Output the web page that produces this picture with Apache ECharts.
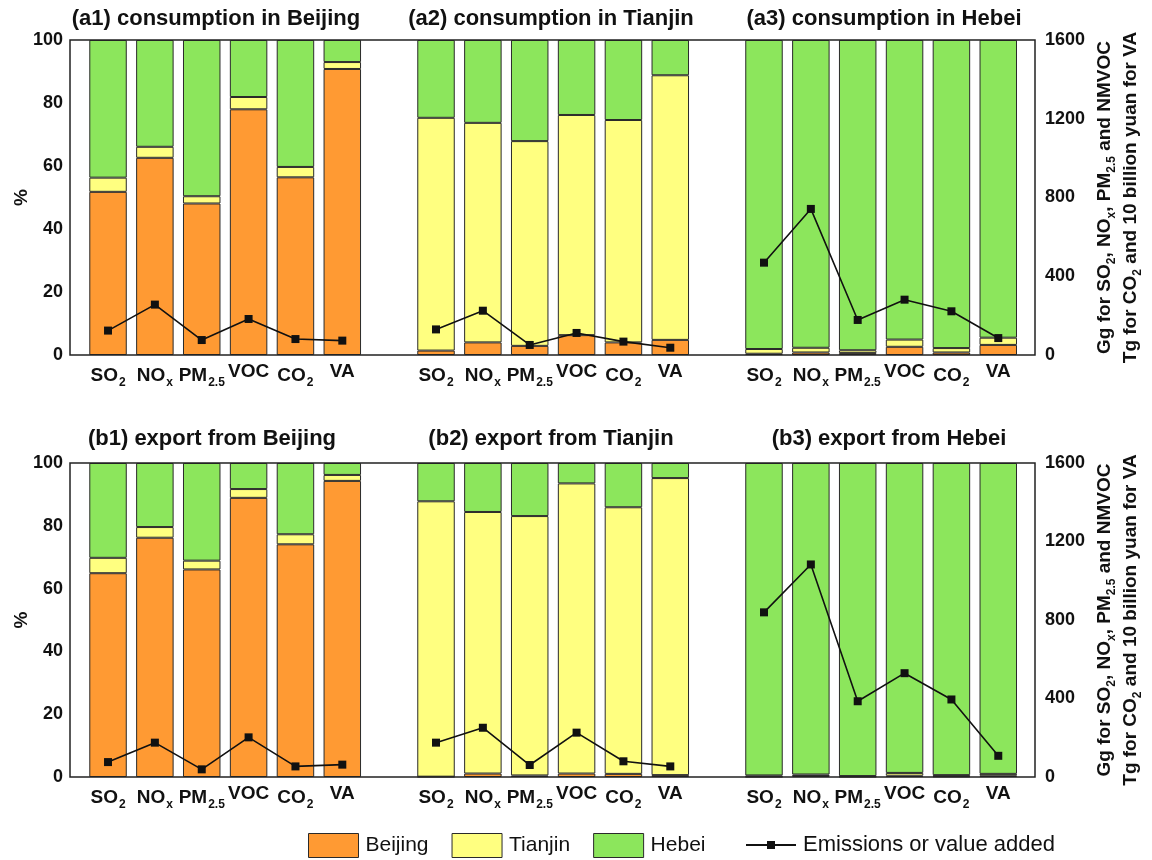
<!DOCTYPE html>
<html><head><meta charset="utf-8">
<script src="https://cdn.jsdelivr.net/npm/echarts@6/dist/echarts.min.js"></script>
<style>html,body{margin:0;padding:0;background:#fff}#c{width:1152px;height:860px}</style>
</head><body><div id="c"></div>
<script>
// ---- data ----
const pollutants = ['SO2', 'NOx', 'PM2.5', 'VOC', 'CO2', 'VA'];
const regionNames = ['Beijing', 'Tianjin', 'Hebei'];
const lineName = 'Emissions or value added';
const panelTitles = [
  ['(a1) consumption in Beijing', '(a2) consumption in Tianjin', '(a3) consumption in Hebei'],
  ['(b1) export from Beijing', '(b2) export from Tianjin', '(b3) export from Hebei']
];
const leftTicks = [0, 20, 40, 60, 80, 100];
const rightTicks = [0, 400, 800, 1200, 1600];

// consumption (%)
const a1_Beijing = [51.8, 62.6, 48.1, 78.0, 56.4, 90.8];
const a1_Tianjin = [4.5, 3.5, 2.3, 3.9, 3.3, 2.2];
const a1_Hebei   = [43.7, 33.9, 49.6, 18.1, 40.3, 7.0];
const a1_Line    = [124, 256, 76, 183, 81, 73];

const a2_Beijing = [1.4, 4.0, 2.9, 6.3, 4.0, 4.8];
const a2_Tianjin = [73.9, 69.7, 65.0, 69.9, 70.6, 84.0];
const a2_Hebei   = [24.7, 26.3, 32.1, 23.8, 25.4, 11.2];
const a2_Line    = [130, 225, 51, 112, 68, 37];

const a3_Beijing = [0.4, 0.8, 0.6, 2.6, 0.8, 3.2];
const a3_Tianjin = [1.5, 1.5, 0.9, 2.3, 1.4, 2.3];
const a3_Hebei   = [98.1, 97.7, 98.5, 95.1, 97.8, 94.5];
const a3_Line    = [469, 742, 178, 281, 222, 86];

// export (%)
const b1_Beijing = [64.9, 76.2, 66.1, 88.9, 74.1, 94.3];
const b1_Tianjin = [4.9, 3.4, 2.8, 2.8, 3.2, 1.9];
const b1_Hebei   = [30.2, 20.4, 31.1, 8.3, 22.7, 3.8];
const b1_Line    = [76, 175, 39, 202, 54, 63];

const b2_Beijing = [0.1, 1.1, 0.5, 1.1, 1.0, 0.6];
const b2_Tianjin = [87.7, 83.3, 82.6, 92.4, 84.9, 94.6];
const b2_Hebei   = [12.2, 15.6, 16.9, 6.5, 14.1, 4.8];
const b2_Line    = [175, 251, 61, 226, 80, 54];

const b3_Beijing = [0.1, 0.3, 0.1, 0.4, 0.2, 0.4];
const b3_Tianjin = [0.4, 0.5, 0.2, 0.9, 0.4, 0.6];
const b3_Hebei   = [99.5, 99.2, 99.7, 98.7, 99.4, 99.0];
const b3_Line    = [839, 1083, 386, 529, 395, 108];

// ---- build ----
const FONT = '"Liberation Sans", Arial, sans-serif';
const colors = {Beijing: '#FF9A33', Tianjin: '#FFFF80', Hebei: '#8CE65C'};
const rowsData = [
  {Beijing: [a1_Beijing, a2_Beijing, a3_Beijing], Tianjin: [a1_Tianjin, a2_Tianjin, a3_Tianjin], Hebei: [a1_Hebei, a2_Hebei, a3_Hebei], line: [a1_Line, a2_Line, a3_Line]},
  {Beijing: [b1_Beijing, b2_Beijing, b3_Beijing], Tianjin: [b1_Tianjin, b2_Tianjin, b3_Tianjin], Hebei: [b1_Hebei, b2_Hebei, b3_Hebei], line: [b1_Line, b2_Line, b3_Line]}
];
function joinPanels(arrs) {
  const out = [];
  arrs.forEach((a, i) => { if (i) out.push('-'); out.push(...a); });
  return out;
}
const categories = joinPanels([pollutants, pollutants, pollutants]);

const subMap = {'SO2': ['SO', '2'], 'NOx': ['NO', 'x'], 'PM2.5': ['PM', '2.5'], 'VOC': ['VOC', ''], 'CO2': ['CO', '2'], 'VA': ['VA', '']};
function richLabel(v) {
  if (!subMap[v]) return '';
  const [m, s] = subMap[v];
  return '{b|' + m + '}' + (s ? '{s|' + s + '}' : '');
}
const labelRich = {
  b: {fontFamily: FONT, fontSize: 19, fontWeight: 'bold', color: '#111'},
  s: {fontFamily: FONT, fontSize: 12, fontWeight: 'bold', color: '#111', padding: [15, 0, 0, 1]}
};

const rowTop = [40, 463];
const rowHeight = [315, 314];
const frame = {left: 70, right: 117};
const inner = {left: 84.6, right: 130.3};

const grid = [], xAxis = [], yAxis = [], series = [], title = [];
const titleCenters = [[216, 551, 884], [212, 551, 889]];
const titleTops = [8, 428];

rowsData.forEach((rd, r) => {
  const gF = grid.length;
  grid.push({left: frame.left, right: frame.right, top: rowTop[r], height: rowHeight[r], show: true,
    borderColor: '#222', borderWidth: 1.5, backgroundColor: 'transparent', z: 5, outerBoundsMode: 'none', containLabel: false});
  grid.push({left: inner.left, right: inner.right, top: rowTop[r], height: rowHeight[r], outerBoundsMode: 'none', containLabel: false});
  const gI = gF + 1;
  const xF = xAxis.length;
  xAxis.push({gridIndex: gF, type: 'value', min: 0, max: 1, show: false});
  xAxis.push({gridIndex: gI, type: 'category', data: categories, boundaryGap: true,
    axisLine: {show: false}, axisTick: {show: false},
    axisLabel: {interval: 0, margin: 7, formatter: richLabel, rich: labelRich}});
  const yF = yAxis.length;
  yAxis.push({gridIndex: gF, type: 'value', position: 'left', min: 0, max: 100, interval: 20,
    axisLine: {show: false}, axisTick: {show: false}, splitLine: {show: false},
    axisLabel: {fontFamily: FONT, fontSize: 18, fontWeight: 'bold', color: '#111', margin: 7, formatter: v => String(v)},
    name: '%', nameLocation: 'middle', nameGap: 39, nameRotate: 90, nameMoveOverlap: false,
    nameTextStyle: {fontFamily: FONT, fontSize: 19, fontWeight: 'bold', color: '#111'}});
  yAxis.push({gridIndex: gF, type: 'value', position: 'right', min: 0, max: 1600, interval: 400,
    axisLine: {show: false}, axisTick: {show: false}, splitLine: {show: false},
    axisLabel: {fontFamily: FONT, fontSize: 18, fontWeight: 'bold', color: '#111', margin: 10, formatter: v => String(v)},
    name: '{b|Gg for SO}{s|2}{b|, NO}{s|x}{b|, PM}{s|2.5}{b| and NMVOC}\n{b|Tg for CO}{s|2}{b| and 10 billion yuan for VA}',
    nameLocation: 'middle', nameGap: 57, nameRotate: 90, nameMoveOverlap: false,
    nameTextStyle: {fontFamily: FONT, fontSize: 19, fontWeight: 'bold', color: '#111', lineHeight: 26,
      rich: {b: {fontFamily: FONT, fontSize: 19, fontWeight: 'bold', color: '#111'},
             s: {fontFamily: FONT, fontSize: 12, fontWeight: 'bold', color: '#111', padding: [13, 0, 0, 0]}}}});
  yAxis.push({gridIndex: gI, type: 'value', min: 0, max: 100, show: false});
  yAxis.push({gridIndex: gI, type: 'value', min: 0, max: 1600, show: false});
  const xI = xF + 1, yIL = yF + 2, yIR = yF + 3;

  regionNames.forEach(name => {
    series.push({name, type: 'bar', stack: 'row' + r, xAxisIndex: xI, yAxisIndex: yIL,
      barWidth: '80%', data: joinPanels(rd[name]),
      itemStyle: {color: colors[name], borderColor: '#2a2a2a', borderWidth: 1},
      emphasis: {disabled: true}});
  });
  series.push({name: lineName, type: 'line', xAxisIndex: xI, yAxisIndex: yIR,
    data: joinPanels(rd.line), connectNulls: false, symbol: 'rect', symbolSize: 8,
    lineStyle: {color: '#111', width: 1.6}, itemStyle: {color: '#111'}, z: 10,
    emphasis: {disabled: true}});

  panelTitles[r].forEach((t, i) => {
    title.push({text: t, left: titleCenters[r][i], top: titleTops[r], textAlign: 'center', padding: 0,
      textStyle: {fontFamily: FONT, fontSize: 22, fontWeight: 'bold', color: '#111'}});
  });
});

const chart = echarts.init(document.getElementById('c'), null, {renderer: 'canvas'});
chart.setOption({
  animation: false,
  backgroundColor: '#fff',
  title, grid, xAxis, yAxis, series,
  legend: [{
    data: regionNames.map(n => ({name: n, icon: 'rect'})), left: 308, top: 833, padding: 0,
    itemWidth: 50, itemHeight: 24, itemGap: 23,
    itemStyle: {borderColor: '#2a2a2a', borderWidth: 1},
    textStyle: {fontFamily: FONT, fontSize: 21, color: '#111', padding: [0, 0, 0, 2]}
  }, {
    data: [lineName], left: 745, top: 834, padding: 0,
    itemWidth: 50, itemHeight: 10,
    textStyle: {fontFamily: FONT, fontSize: 22, color: '#111', padding: [0, 0, 0, 2]}
  }]
});
</script></body></html>
